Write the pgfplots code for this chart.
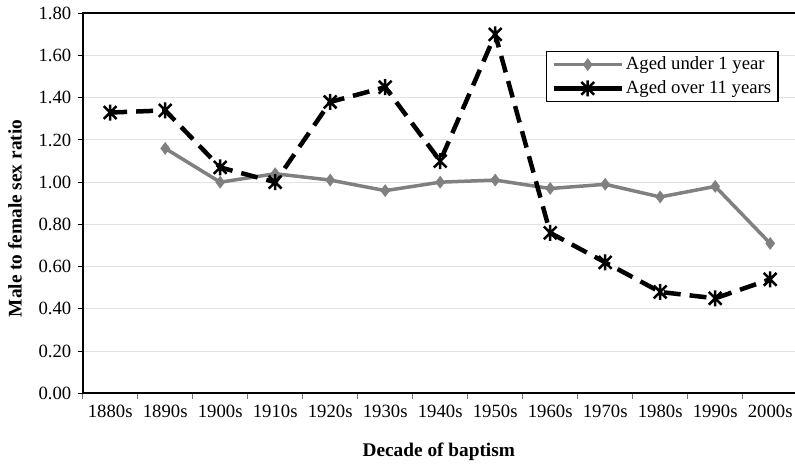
\documentclass[border=0pt]{standalone}
\usepackage{fontspec}
\setmainfont{Liberation Serif}
\usepackage{pgfplots}
\pgfplotsset{compat=1.18}
\usetikzlibrary{plotmarks}
\definecolor{sergray}{RGB}{128,128,128}
\definecolor{gridgray}{RGB}{226,226,226}
\definecolor{tickgray}{RGB}{120,120,120}
\pgfdeclareplotmark{starx}{%
  \pgfpathmoveto{\pgfqpoint{-0.8\pgfplotmarksize}{-0.8\pgfplotmarksize}}%
  \pgfpathlineto{\pgfqpoint{0.8\pgfplotmarksize}{0.8\pgfplotmarksize}}%
  \pgfpathmoveto{\pgfqpoint{-0.8\pgfplotmarksize}{0.8\pgfplotmarksize}}%
  \pgfpathlineto{\pgfqpoint{0.8\pgfplotmarksize}{-0.8\pgfplotmarksize}}%
  \pgfpathmoveto{\pgfqpoint{0pt}{-\pgfplotmarksize}}%
  \pgfpathlineto{\pgfqpoint{0pt}{\pgfplotmarksize}}%
  \pgfusepathqstroke}
\begin{document}
\fontsize{18.7}{22}\selectfont
\begin{tikzpicture}
\begin{axis}[
  at={(0,0)}, anchor=south west,
  scale only axis, width=715pt, height=380pt,
  xmin=-0.5, xmax=12.5, ymin=0, ymax=1.8,
  xtick={0,1,2,3,4,5,6,7,8,9,10,11,12},
  xticklabels={1880s,1890s,1900s,1910s,1920s,1930s,1940s,1950s,1960s,1970s,1980s,1990s,2000s},
  major x tick style={draw=none},
  minor xtick={-0.5,0.5,1.5,2.5,3.5,4.5,5.5,6.5,7.5,8.5,9.5,10.5,11.5,12.5},
  minor x tick style={tickgray, line width=1pt},
  minor tick length=6pt,
  ytick={0,0.2,0.4,0.6,0.8,1.0,1.2,1.4,1.6,1.8},
  yticklabel style={/pgf/number format/.cd, fixed, fixed zerofill, precision=2},
  /pgf/number format/assume math mode=true,
  major y tick style={black, line width=1pt},
  major tick length=5pt,
  tick align=outside,
  xtick pos=bottom, ytick pos=left,
  ymajorgrids,
  grid style={gridgray, line width=1pt},
  axis line style={black, line width=2pt},
  tick label style={font=\fontsize{18.7}{22}\selectfont},
  xlabel={\bfseries Decade of baptism},
  ylabel={\bfseries Male to female sex ratio},
  xlabel style={at={(axis description cs:0.498,-0.1545)}, anchor=center},
  ylabel style={at={(axis description cs:-0.0947,0.46)}, anchor=center, rotate=0},
  label style={font=\fontsize{19.3}{22}\selectfont},
  legend style={at={(0.6476,0.9008)}, anchor=north west, draw=black, line width=1.5pt,
    font=\fontsize{18.7}{22}\selectfont, inner xsep=5pt, inner ysep=3pt, row sep=4pt},
  legend cell align=left,
  legend image code/.code={\draw[mark repeat=2,mark phase=2,#1, solid] plot coordinates {(0pt,0pt) (34pt,0pt) (68pt,0pt)};},
]
\addplot[sergray, line width=3.5pt, mark=diamond*, mark size=6pt, mark options={fill=sergray, draw=sergray, line width=0.5pt, solid}]
  coordinates {(1,1.16) (2,1.00) (3,1.04) (4,1.01) (5,0.96) (6,1.00) (7,1.01) (8,0.97) (9,0.99) (10,0.93) (11,0.98) (12,0.71)};
\addlegendentry{Aged under 1 year}
\addplot[black, line width=4.5pt, dash pattern=on 17pt off 9pt, mark=starx, mark size=8pt, mark options={solid, line width=2.5pt}]
  coordinates {(0,1.33) (1,1.34) (2,1.07) (3,1.00) (4,1.38) (5,1.45) (6,1.10) (7,1.70) (8,0.76) (9,0.62) (10,0.48) (11,0.45) (12,0.54)};
\addlegendentry{Aged over 11 years}
\end{axis}
\pgfresetboundingbox
\useasboundingbox (-82.7pt,-72.7pt) rectangle (712.3pt,393.3pt);
\end{tikzpicture}
\end{document}
